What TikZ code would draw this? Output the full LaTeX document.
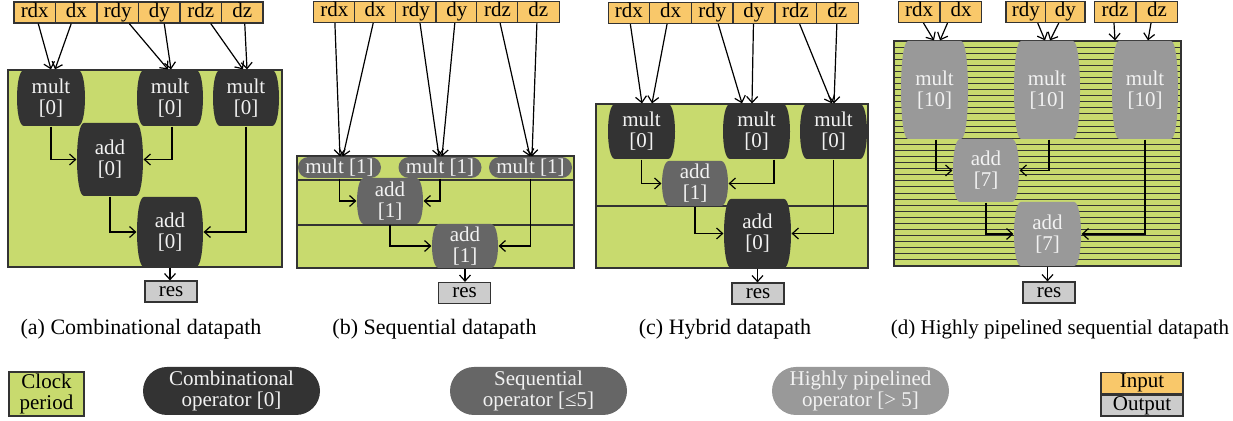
\documentclass[tikz,border=0pt]{standalone}
\usepackage{fontspec}
\setmainfont{Liberation Serif}
\usetikzlibrary{shapes.misc,arrows.meta}

\definecolor{clockgreen}{HTML}{C8DA6E}
\definecolor{inorange}{HTML}{F9C86A}
\definecolor{outgray}{HTML}{CCCCCC}
\definecolor{edgegray}{HTML}{333333}
\definecolor{opdark}{HTML}{333333}
\definecolor{opseq}{HTML}{666666}
\definecolor{oppipe}{HTML}{999999}
\definecolor{optext}{HTML}{F2F2F2}

\begin{document}
\begin{tikzpicture}[x=0.5pt, y=-0.5pt, line width=0.6pt,
    every node/.style={font=\fontsize{10.5}{10.5}\selectfont},
    inbox/.style={draw=edgegray, fill=inorange, minimum width=20.75pt, minimum height=10.5pt, inner sep=0pt, text height=7pt, text depth=2.2pt},
    outbox/.style={inbox, fill=outgray, minimum width=26pt},
    clockbox/.style={draw=edgegray, fill=clockgreen},
    stripe/.style={draw=edgegray, line width=0.5pt},
    oper/.style={rectangle, inner sep=0pt, align=center, text=optext,
      path picture={\fill[#1]
        ([xshift=3.5pt]path picture bounding box.north west) -- ([xshift=-3.5pt]path picture bounding box.north east)
        .. controls ([xshift=1.17pt]path picture bounding box.north east) and ([xshift=1.17pt]path picture bounding box.south east)
        .. ([xshift=-3.5pt]path picture bounding box.south east) -- ([xshift=3.5pt]path picture bounding box.south west)
        .. controls ([xshift=-1.17pt]path picture bounding box.south west) and ([xshift=-1.17pt]path picture bounding box.north west)
        .. cycle;}},
    comb/.style={oper=opdark},
    seqop/.style={oper=opseq},
    pipeop/.style={oper=oppipe},
    pill/.style={rounded rectangle, inner sep=0pt, align=center, text=optext, fill=#1},
    link/.style={-{Straight Barb[length=3pt,width=5.5pt]}},
    caption/.style={font=\fontsize{11}{11}\selectfont}]
  \useasboundingbox (0,0) rectangle (1233,421);

  % clock periods
  \draw[clockbox] (8,70) rectangle (282,267);
  \draw[clockbox] (297,156) rectangle (574,268);
  \draw[edgegray] (297,180) -- (574,180) (297,225) -- (574,225);
  \draw[clockbox] (596,104) rectangle (868,268);
  \draw[edgegray] (596,206) -- (868,206);
  \draw[clockbox] (894,41) rectangle (1181,266);
  \foreach \k in {1,...,36}
    \draw[stripe] (894,{41+\k*225/37}) -- (1181,{41+\k*225/37});

  % inputs
  \foreach \t [count=\i] in {rdx,dx,rdy,dy,rdz,dz} {
    \node[inbox] (\t a) at ({14+41.5*(\i-0.5)},12.5) {\t};
    \node[inbox] (\t b) at ({314+40.8*(\i-0.5)},12) {\t};
    \node[inbox] (\t c) at ({608+41.7*(\i-0.5)},13) {\t};
  }
  \node[inbox] (rdxd) at (919,12) {rdx};
  \node[inbox] (dxd) at (961,12) {dx};
  \node[inbox, minimum width=19.75pt] (rdyd) at (1025.75,12) {rdy};
  \node[inbox, minimum width=19.75pt] (dyd) at (1065.25,12) {dy};
  \node[inbox] (rdzd) at (1115,12) {rdz};
  \node[inbox] (dzd) at (1157,12) {dz};

  % (a) combinational
  \node[comb, minimum width=34pt, minimum height=28pt] (m1a) at (51,98) {mult\\{[0]}};
  \node[comb, minimum width=33pt, minimum height=28pt] (m2a) at (170,98) {mult\\{[0]}};
  \node[comb, minimum width=33pt, minimum height=28pt] (m3a) at (246,98) {mult\\{[0]}};
  \node[comb, minimum width=33pt, minimum height=36.5pt] (a1a) at (110,159.5) {add\\{[0]}};
  \node[comb, minimum width=33pt, minimum height=35pt] (a2a) at (170,232) {add\\{[0]}};
  \node[outbox] (resa) at (171,291.5) {res};

  % (b) sequential
  \node[pill=opseq, minimum width=41.5pt, minimum height=10.5pt] (p1b) at (339.5,167.5) {mult [1]};
  \node[pill=opseq, minimum width=41.5pt, minimum height=10.5pt] (p2b) at (440,167.5) {mult [1]};
  \node[pill=opseq, minimum width=41.5pt, minimum height=10.5pt] (p3b) at (530.5,167.5) {mult [1]};
  \node[seqop, minimum width=33pt, minimum height=23pt] (a1b) at (390,201) {add\\{[1]}};
  \node[seqop, minimum width=33pt, minimum height=22pt] (a2b) at (465,246) {add\\{[1]}};
  \node[outbox] (resb) at (464.5,293) {res};

  % (c) hybrid
  \node[comb, minimum width=33.5pt, minimum height=27.5pt] (m1c) at (641.5,131.5) {mult\\{[0]}};
  \node[comb, minimum width=33.5pt, minimum height=27.5pt] (m2c) at (756.5,131.5) {mult\\{[0]}};
  \node[comb, minimum width=33.5pt, minimum height=27.5pt] (m3c) at (833.5,131.5) {mult\\{[0]}};
  \node[seqop, minimum width=33pt, minimum height=22.5pt] (a1c) at (695,183.5) {add\\{[1]}};
  \node[comb, minimum width=33.5pt, minimum height=34.5pt] (a2c) at (757.5,233.5) {add\\{[0]}};
  \node[outbox] (resc) at (758,293.5) {res};

  % (d) highly pipelined
  \node[pipeop, minimum width=33.5pt, minimum height=49pt] (m1d) at (934.5,90) {mult\\{[10]}};
  \node[pipeop, minimum width=33pt, minimum height=49pt] (m2d) at (1047,90) {mult\\{[10]}};
  \node[pipeop, minimum width=33pt, minimum height=49pt] (m3d) at (1145,90) {mult\\{[10]}};
  \node[pipeop, minimum width=33pt, minimum height=31.5pt] (a1d) at (986,170.5) {add\\{[7]}};
  \node[pipeop, minimum width=33.5pt, minimum height=32pt] (a2d) at (1047.5,234) {add\\{[7]}};
  \node[outbox] (resd) at (1049,292.5) {res};

  % inputs to operators
  \draw[link] ([xshift=1.75pt]rdxa.south) -- (m1a.north);
  \draw[link] ([xshift=-2.5pt]dxa.south) -- ([xshift=2pt]m1a.north);
  \draw[link] ([xshift=5.75pt]rdya.south) -- ([xshift=-1pt]m2a.north);
  \draw[link] ([xshift=2.5pt]dya.south) -- ([xshift=0.5pt]m2a.north);
  \draw[link] ([xshift=5pt]rdza.south) -- ([xshift=-1.5pt]m3a.north);
  \draw[link] ([xshift=1.25pt]dza.south) -- ([xshift=0.5pt]m3a.north);

  \draw[link] ([xshift=0.25pt]rdxb.south) -- ([xshift=0.25pt]p1b.north);
  \draw[link] ([xshift=-1pt]dxb.south) -- ([xshift=1.75pt]p1b.north);
  \draw[link] ([xshift=2pt]rdyb.south) -- ([xshift=-0.5pt]p2b.north);
  \draw[link] ([xshift=-1pt]dyb.south) -- ([xshift=1pt]p2b.north);
  \draw[link] ([xshift=1.25pt]rdzb.south) -- ([xshift=-0.25pt]p3b.north);
  \draw[link] ([xshift=-0.75pt]dzb.south) -- ([xshift=0.75pt]p3b.north);

  \draw[link] ([xshift=0.75pt]rdxc.south) -- ([xshift=0.25pt]m1c.north);
  \draw[link] ([xshift=-1.75pt]dxc.south) -- ([xshift=5.25pt]m1c.north);
  \draw[link] ([xshift=3pt]rdyc.south) -- ([xshift=-7.25pt]m2c.north);
  \draw[link] ([xshift=-0.25pt]dyc.south) -- ([xshift=-2.25pt]m2c.north);
  \draw[link] ([xshift=2pt]rdzc.south) -- ([xshift=-0.75pt]m3c.north);
  \draw[link] ([xshift=-0.25pt]dzc.south) -- ([xshift=0.25pt]m3c.north);

  \draw[link] ([xshift=2.25pt]rdxd.south) -- ([xshift=-0.25pt]m1d.north);
  \draw[link] ([xshift=-6.75pt]dxd.south) -- ([xshift=2.75pt]m1d.north);
  \draw[link] ([xshift=6pt]rdyd.south) -- ([xshift=-1pt]m2d.north);
  \draw[link] ([xshift=-3.25pt]dyd.south) -- ([xshift=1.5pt]m2d.north);
  \draw[link] ([xshift=-0.5pt]rdzd.south) -- ([xshift=-15pt]m3d.north);
  \draw[link] ([xshift=-3pt]dzd.south) -- ([xshift=1.5pt]m3d.north);

  % operator chains
  \draw[link] (m1a.south) |- (a1a.west);
  \draw[link] ([xshift=1pt]m2a.south) |- (a1a.east);
  \draw[link] (a1a.south) |- (a2a.west);
  \draw[link] (m3a.south) |- (a2a.east);
  \draw[link] (a2a.south) -- (a2a.south |- resa.north);

  \draw[link] (p1b.south) |- (a1b.west);
  \draw[link] (p2b.south) |- (a1b.east);
  \draw[link] (a1b.south) |- (a2b.west);
  \draw[link] (p3b.south) |- (a2b.east);
  \draw[link] (a2b.south) -- (a2b.south |- resb.north);

  \draw[link] (m1c.south) |- (a1c.west);
  \draw[link] ([xshift=8.75pt]m2c.south) |- (a1c.east);
  \draw[link] (a1c.south) |- (a2c.west);
  \draw[link] (m3c.south) |- (a2c.east);
  \draw[link] (a2c.south) -- (a2c.south |- resc.north);

  \draw[link] ([xshift=0.75pt]m1d.south) |- (a1d.west);
  \draw[link] ([xshift=1pt]m2d.south) |- (a1d.east);
  \draw[link] (a1d.south) |- (a2d.west);
  \draw[link] (m3d.south) |- (a2d.east);
  \draw[link] (a2d.south) -- (a2d.south |- resd.north);

  % captions
  \node[caption] (capa) at (141,329) {(a) Combinational datapath};
  \node[caption] (capb) at (434.5,329) {(b) Sequential datapath};
  \node[caption] (capc) at (725,329) {(c) Hybrid datapath};
  \node[caption, font=\fontsize{10.5}{10.5}\selectfont] (capd) at (1060,329) {(d) Highly pipelined sequential datapath};

  % legend
  \node[clockbox, minimum width=37.5pt, minimum height=22pt, inner sep=0pt, align=center] (clk) at (46.5,394) {Clock\\period};
  \node[pill=opdark, minimum width=88.5pt, minimum height=24pt] (lcomb) at (231.5,391) {Combinational\\operator [0]};
  \node[pill=opseq, minimum width=88.5pt, minimum height=24pt] (lseq) at (538.5,391) {Sequential\\operator [≤5]};
  \node[pill=oppipe, minimum width=88.5pt, minimum height=24pt] (lpipe) at (860.5,391) {Highly pipelined\\operator [> 5]};
  \node[inbox, minimum width=41pt] (lin) at (1142,383) {Input};
  \node[outbox, minimum width=41pt] (lout) at (1142,405.5) {Output};
\end{tikzpicture}
\end{document}
